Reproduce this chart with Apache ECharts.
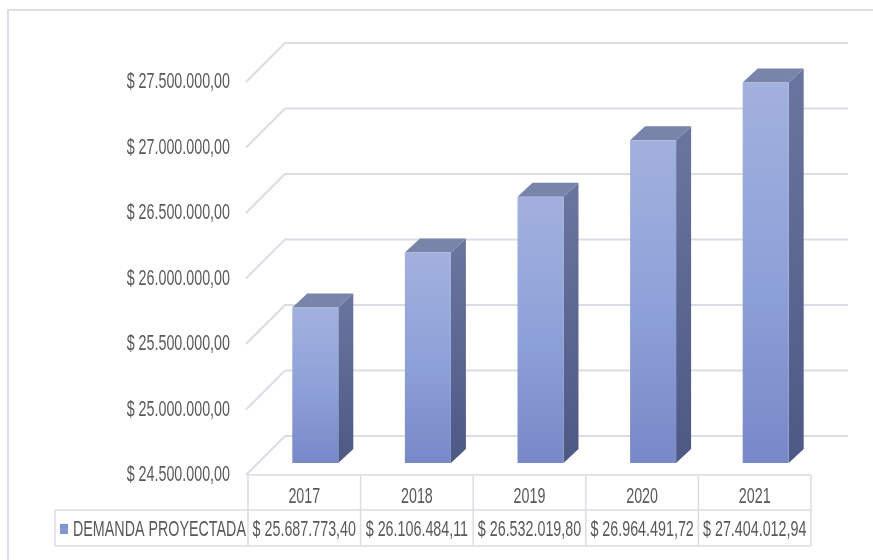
<!DOCTYPE html>
<html>
<head>
<meta charset="utf-8">
<title>Demanda proyectada</title>
<script src="https://cdn.jsdelivr.net/npm/echarts@6/dist/echarts.min.js"></script>
<style>
  html, body { margin: 0; padding: 0; background: #ffffff; }
  #chart { width: 873px; height: 560px; }
</style>
</head>
<body>
<div id="chart"></div>
<script>
// Projected demand per year
const years = ['2017', '2018', '2019', '2020', '2021'];
const demand = [25687773.40, 26106484.11, 26532019.80, 26964491.72, 27404012.94];
const seriesName = 'DEMANDA PROYECTADA';
const axisTicks = [24500000, 25000000, 25500000, 26000000, 26500000, 27000000, 27500000];

const FONT = '"Liberation Sans", Arial, sans-serif';
const FONT_SIZE = 22;
const SQUEEZE = 0.65;          // narrow lettering
const TEXT = '#595959';
const LINE = '#dadde6';

// back-wall offset and bar placement inside the depth
const WALL_DX = 37, WALL_DY = -39;
const BAR_DX = 11, BAR_DY = -12, BAR_W = 46, BAR_DEPTH_X = 15, BAR_DEPTH_Y = -14;

// "$ 25.687.773,40" style
function money(v) {
  const fixed = Math.abs(v).toFixed(2).split('.');
  const int = fixed[0].replace(/\B(?=(\d{3})+(?!\d))/g, '.');
  return '$ ' + int + ',' + fixed[1];
}

// condensed text element anchored at (x, y)
function label(x, y, text, align) {
  return {
    type: 'text',
    x: x, y: y,
    scaleX: SQUEEZE,
    style: {
      x: 0, y: 0,
      text: text,
      fill: TEXT,
      font: FONT_SIZE + 'px ' + FONT,
      align: align,
      verticalAlign: 'middle'
    }
  };
}

const chart = echarts.init(document.getElementById('chart'), null, { renderer: 'canvas' });

const option = {
  backgroundColor: '#ffffff',
  animation: false,
  graphic: [{
    type: 'rect',
    shape: { x: 8, y: 10, width: 900, height: 600 },
    style: { fill: 'none', stroke: '#dcdfe7', lineWidth: 2 },
    silent: true,
    z: -10
  }],
  grid: { left: 248, right: 62, top: 82, bottom: 85 },
  xAxis: {
    type: 'category',
    data: years,
    axisLine: { show: false },
    axisTick: { show: false },
    splitLine: { show: false },
    axisLabel: { show: false }
  },
  yAxis: {
    type: 'value',
    min: axisTicks[0],
    max: axisTicks[axisTicks.length - 1],
    interval: 500000,
    axisLine: { show: false },
    axisTick: { show: false },
    splitLine: { show: false },
    axisLabel: { show: false }
  },
  series: [
    {
      // back wall gridlines, their diagonal returns and the value labels
      type: 'custom',
      name: 'wall',
      silent: true,
      clip: false,
      z: 1,
      data: axisTicks.map(v => [0, v]),
      renderItem(params, api) {
        const cs = params.coordSys;
        const value = api.value(1);
        const y = api.coord([0, value])[1];
        return {
          type: 'group',
          children: [
            {
              type: 'polyline',
              shape: {
                points: [
                  [cs.x - 2, y],
                  [cs.x + WALL_DX, y + WALL_DY],
                  [cs.x + cs.width + WALL_DX, y + WALL_DY]
                ]
              },
              style: { fill: 'none', stroke: LINE, lineWidth: 2 }
            },
            label(cs.x - 18, y, money(value), 'right')
          ]
        };
      }
    },
    {
      // 3D columns
      type: 'custom',
      name: seriesName,
      clip: false,
      z: 3,
      data: demand.map((v, i) => [i, v]),
      renderItem(params, api) {
        const cs = params.coordSys;
        const top = api.coord([api.value(0), api.value(1)]);
        const baseY = cs.y + cs.height + BAR_DY;
        const cx = top[0] + BAR_DX;
        const x0 = cx - BAR_W / 2, x1 = cx + BAR_W / 2;
        const y0 = top[1] + BAR_DY;
        const front = {
          type: 'rect',
          shape: { x: x0, y: y0, width: BAR_W, height: baseY - y0 },
          style: {
            fill: new echarts.graphic.LinearGradient(0, 0, 0, 1, [
              { offset: 0, color: '#a2b0dd' },
              { offset: 0.5, color: '#8ea2d9' },
              { offset: 1, color: '#7888c8' }
            ])
          }
        };
        const side = {
          type: 'polygon',
          shape: {
            points: [
              [x1, y0], [x1 + BAR_DEPTH_X, y0 + BAR_DEPTH_Y],
              [x1 + BAR_DEPTH_X, baseY + BAR_DEPTH_Y], [x1, baseY]
            ]
          },
          style: {
            fill: new echarts.graphic.LinearGradient(0, 0, 0, 1, [
              { offset: 0, color: '#6a769e' },
              { offset: 1, color: '#4d5885' }
            ])
          }
        };
        const lid = {
          type: 'polygon',
          shape: {
            points: [
              [x0, y0], [x0 + BAR_DEPTH_X, y0 + BAR_DEPTH_Y],
              [x1 + BAR_DEPTH_X, y0 + BAR_DEPTH_Y], [x1, y0]
            ]
          },
          style: { fill: '#7884a9' }
        };
        return { type: 'group', children: [side, lid, front] };
      }
    },
    {
      // data table under the plot
      type: 'custom',
      name: 'table',
      silent: true,
      clip: false,
      z: 2,
      data: demand.map((v, i) => [i, v]),
      renderItem(params, api) {
        const cs = params.coordSys;
        const idx = api.value(0);
        const cx = api.coord([idx, cs.y])[0];
        const band = api.size([1, 0])[0];
        const left = cx - band / 2, right = cx + band / 2;
        const rowTop = cs.y + cs.height;   // floor front edge
        const rowMid = rowTop + 35;
        const rowBot = rowMid + 36;
        const lineStyle = { stroke: LINE, lineWidth: 1.5 };
        const kids = [
          { type: 'line', shape: { x1: left, y1: rowTop, x2: right, y2: rowTop }, style: lineStyle },
          { type: 'line', shape: { x1: left, y1: rowMid, x2: right, y2: rowMid }, style: lineStyle },
          { type: 'line', shape: { x1: left, y1: rowBot, x2: right, y2: rowBot }, style: lineStyle },
          { type: 'line', shape: { x1: right, y1: rowTop, x2: right, y2: rowBot }, style: lineStyle },
          label(cx, (rowTop + rowMid) / 2 + 4, years[idx], 'center'),
          label(cx, (rowMid + rowBot) / 2 + 2, money(api.value(1)), 'center')
        ];
        if (idx === 0) {
          const tableLeft = 55;
          const midY = (rowMid + rowBot) / 2;
          kids.push(
            { type: 'line', shape: { x1: left, y1: rowTop, x2: left, y2: rowBot }, style: lineStyle },
            { type: 'line', shape: { x1: tableLeft, y1: rowMid, x2: left, y2: rowMid }, style: lineStyle },
            { type: 'line', shape: { x1: tableLeft, y1: rowBot, x2: left, y2: rowBot }, style: lineStyle },
            { type: 'line', shape: { x1: tableLeft, y1: rowMid, x2: tableLeft, y2: rowBot }, style: lineStyle },
            {
              type: 'rect',
              shape: { x: 60, y: midY - 4, width: 8, height: 10 },
              style: { fill: '#8496d1' }
            },
            label(73, midY + 2, seriesName, 'left')
          );
        }
        return { type: 'group', children: kids };
      }
    }
  ]
};

chart.setOption(option);
</script>
</body>
</html>
